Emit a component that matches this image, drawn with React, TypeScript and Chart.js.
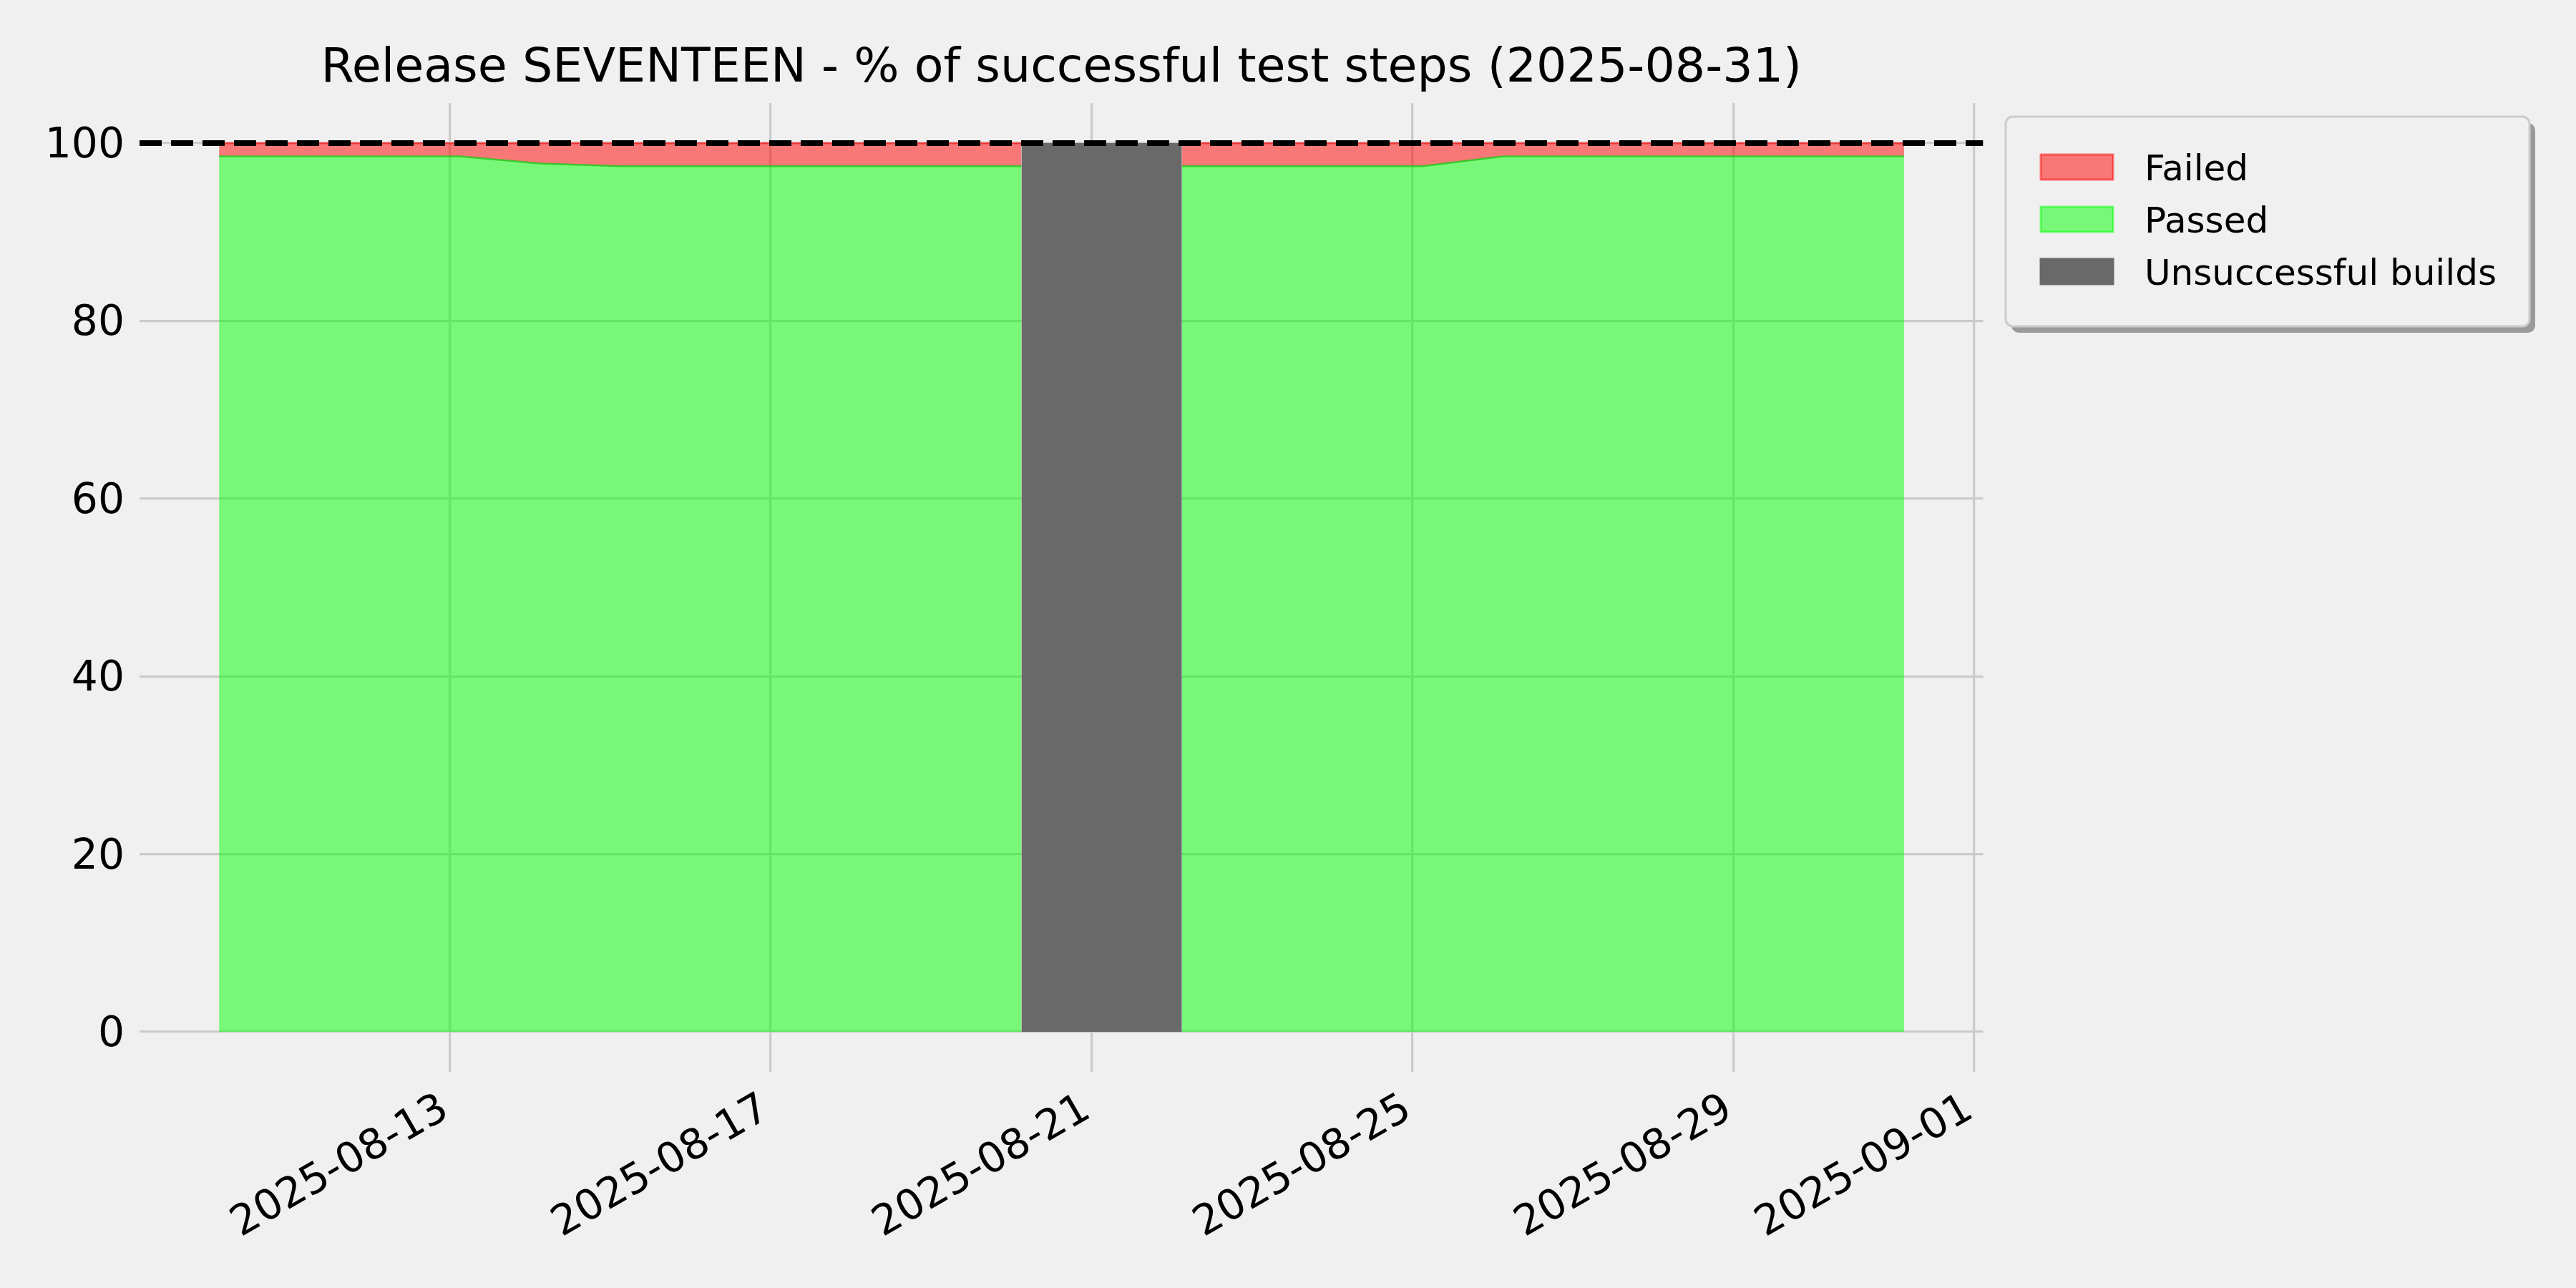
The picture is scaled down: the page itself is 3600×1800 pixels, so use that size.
import { useEffect, useRef } from 'react';
import { Chart, registerables } from 'chart.js';

Chart.register(...registerables);

// ---------- data ----------
const runTimes = [
  '2025-08-10T03:00', '2025-08-11T03:00', '2025-08-12T03:00', '2025-08-13T03:00',
  '2025-08-14T03:00', '2025-08-15T03:00', '2025-08-16T03:00', '2025-08-17T03:00',
  '2025-08-18T03:00', '2025-08-19T03:00', '2025-08-20T03:00', '2025-08-21T03:00',
  '2025-08-22T03:00', '2025-08-23T03:00', '2025-08-24T03:00', '2025-08-25T03:00',
  '2025-08-26T03:00', '2025-08-27T03:00', '2025-08-28T03:00', '2025-08-29T03:00',
  '2025-08-30T03:00', '2025-08-31T03:00',
];
const passedPct: (number | null)[] = [
  98.5, 98.5, 98.5, 98.5, 97.7, 97.4, 97.4, 97.4, 97.4, 97.4, 97.4, null,
  97.4, 97.4, 97.4, 97.4, 98.5, 98.5, 98.5, 98.5, 98.5, 98.5,
];
const failedPct: (number | null)[] = [
  1.5, 1.5, 1.5, 1.5, 2.3, 2.6, 2.6, 2.6, 2.6, 2.6, 2.6, null,
  2.6, 2.6, 2.6, 2.6, 1.5, 1.5, 1.5, 1.5, 1.5, 1.5,
];
const unsuccessfulSpan = ['2025-08-20T03:00', '2025-08-22T03:00'];
const unsuccessfulLevel = [100, 100];
const targetPct = 100;
const xTickDates = ['2025-08-13', '2025-08-17', '2025-08-21', '2025-08-25', '2025-08-29', '2025-09-01'];
const yTicks = [0, 20, 40, 60, 80, 100];
const xAxisRange = ['2025-08-09T03:13', '2025-09-01T02:40'];
const yAxisRange = [-4.5, 104.5];
const titleText = 'Release SEVENTEEN - % of successful test steps (2025-08-31)';
const seriesLabels = ['Failed', 'Passed', 'Unsuccessful builds'];

const FONT = '"DejaVu Sans", "Liberation Sans", sans-serif';

const toDays = (s: string) =>
  Date.parse(s.length === 10 ? s + 'T00:00Z' : s + 'Z') / 86400000;
const fmtDay = (v: number) => new Date(Math.round(v * 86400000)).toISOString().slice(0, 10);

function roundRect(ctx: CanvasRenderingContext2D, x: number, y: number, w: number, h: number, r: number) {
  ctx.beginPath();
  ctx.moveTo(x + r, y);
  ctx.lineTo(x + w - r, y);
  ctx.arcTo(x + w, y, x + w, y + r, r);
  ctx.lineTo(x + w, y + h - r);
  ctx.arcTo(x + w, y + h, x + w - r, y + h, r);
  ctx.lineTo(x + r, y + h);
  ctx.arcTo(x, y + h, x, y + h - r, r);
  ctx.lineTo(x, y + r);
  ctx.arcTo(x, y, x + r, y, r);
  ctx.closePath();
}

const backgroundPlugin = {
  id: 'bg',
  beforeDraw(chart: any) {
    const ctx = chart.ctx;
    ctx.save();
    ctx.fillStyle = '#f0f0f0';
    ctx.fillRect(0, 0, chart.width, chart.height);
    ctx.restore();
  },
};

const legendPlugin = {
  id: 'boxLegend',
  afterDraw(chart: any) {
    const ctx: CanvasRenderingContext2D = chart.ctx;
    const L = 2803, T = 163, W = 732, H = 293, R = 10;
    ctx.save();
    ctx.fillStyle = '#9a9a9a';
    roundRect(ctx, L + 8, T + 9, W, H, R);
    ctx.fill();
    ctx.fillStyle = '#f0f0f0';
    roundRect(ctx, L, T, W, H, R);
    ctx.fill();
    ctx.strokeStyle = '#cccccc';
    ctx.lineWidth = 3;
    ctx.stroke();
    const items = chart.data.datasets.filter((d: any) => d.label);
    items.forEach((ds: any, i: number) => {
      const cy = 233.5 + i * 73;
      const px = 2852, pw = 101, ph = 35;
      ctx.fillStyle = ds.backgroundColor;
      ctx.fillRect(px, cy - ph / 2, pw, ph);
      ctx.strokeStyle = ds.backgroundColor;
      ctx.lineWidth = 3;
      ctx.strokeRect(px, cy - ph / 2, pw, ph);
      ctx.fillStyle = '#000';
      ctx.font = `50px ${FONT}`;
      ctx.textAlign = 'left';
      ctx.textBaseline = 'alphabetic';
      ctx.fillText(ds.label, 2997, cy + 18);
    });
    ctx.restore();
  },
};

export default function App() {
  const ref = useRef<HTMLCanvasElement>(null);

  useEffect(() => {
    document.body.style.margin = '0';
    document.body.style.background = '#f0f0f0';
    const xs = runTimes.map(toDays);
    const xMin = toDays(xAxisRange[0]);
    const xMax = toDays(xAxisRange[1]);

    const passedPts = xs.map((x, i) => ({ x, y: passedPct[i] }));
    const failedPts = xs.map((x, i) => ({
      x,
      y: passedPct[i] === null || failedPct[i] === null ? null : (passedPct[i] as number) + (failedPct[i] as number),
    }));
    const grayPts = unsuccessfulSpan.map((s, i) => ({ x: toDays(s), y: unsuccessfulLevel[i] }));
    const refPts = [{ x: xMin, y: targetPct }, { x: xMax, y: targetPct }];

    const chart = new Chart(ref.current as HTMLCanvasElement, {
      type: 'line',
      data: {
        datasets: [
          {
            label: seriesLabels[0],
            data: failedPts as any,
            fill: 1,
            backgroundColor: 'rgba(255,0,0,0.5)',
            borderColor: 'rgba(255,0,0,0.5)',
            borderWidth: 3,
            pointRadius: 0,
            tension: 0,
            order: 3,
          },
          {
            label: seriesLabels[1],
            data: passedPts as any,
            fill: 'origin',
            backgroundColor: 'rgba(0,255,0,0.5)',
            borderColor: 'rgba(40,200,30,0.85)',
            borderWidth: 2.5,
            pointRadius: 0,
            tension: 0,
            order: 2,
          },
          {
            label: seriesLabels[2],
            data: grayPts as any,
            fill: 'origin',
            backgroundColor: '#696969',
            borderColor: '#696969',
            borderWidth: 0,
            pointRadius: 0,
            tension: 0,
            order: 1,
          },
          {
            label: '',
            data: refPts as any,
            fill: false,
            borderColor: '#000000',
            borderWidth: 8,
            borderDash: [31, 13],
            pointRadius: 0,
            tension: 0,
            order: 0,
          },
        ],
      },
      options: {
        responsive: false,
        maintainAspectRatio: false,
        devicePixelRatio: 1,
        animation: false,
        layout: { padding: { left: 0, top: 0, right: 828.5, bottom: 0 } },
        plugins: {
          legend: { display: false },
          tooltip: { enabled: false },
          title: {
            display: true,
            text: titleText,
            fullSize: false,
            color: '#000',
            font: { family: FONT, size: 66.67, weight: 'normal', lineHeight: 1.2 },
            padding: { top: 57, bottom: 7 },
          },
        },
        scales: {
          x: {
            type: 'linear',
            min: xMin,
            max: xMax,
            afterBuildTicks: (scale: any) => {
              scale.ticks = xTickDates.map((d) => ({ value: toDays(d) }));
            },
            afterFit: (scale: any) => {
              scale.height = 302;
            },
            ticks: {
              autoSkip: false,
              minRotation: 30,
              maxRotation: 30,
              padding: 18,
              labelOffset: -6,
              color: '#000',
              font: { family: FONT, size: 58.33 },
              callback: (v: any) => fmtDay(Number(v)),
            },
            grid: { color: '#cbcbcb', lineWidth: 3.3, drawTicks: false },
            border: { display: false },
          },
          y: {
            type: 'linear',
            min: yAxisRange[0],
            max: yAxisRange[1],
            afterBuildTicks: (scale: any) => {
              scale.ticks = yTicks.map((v) => ({ value: v }));
            },
            afterFit: (scale: any) => {
              scale.width = 195;
            },
            ticks: {
              padding: 21,
              labelOffset: 5,
              color: '#000',
              font: { family: FONT, size: 58.33 },
              callback: (v: any) => String(v),
            },
            grid: { color: '#cbcbcb', lineWidth: 3.3, drawTicks: false },
            border: { display: false },
          },
        },
      },
      plugins: [backgroundPlugin, legendPlugin],
    } as any);
    return () => chart.destroy();
  }, []);

  return (
    <canvas
      ref={ref}
      width={3600}
      height={1800}
      style={{ display: 'block', width: '3600px', height: '1800px' }}
    />
  );
}
